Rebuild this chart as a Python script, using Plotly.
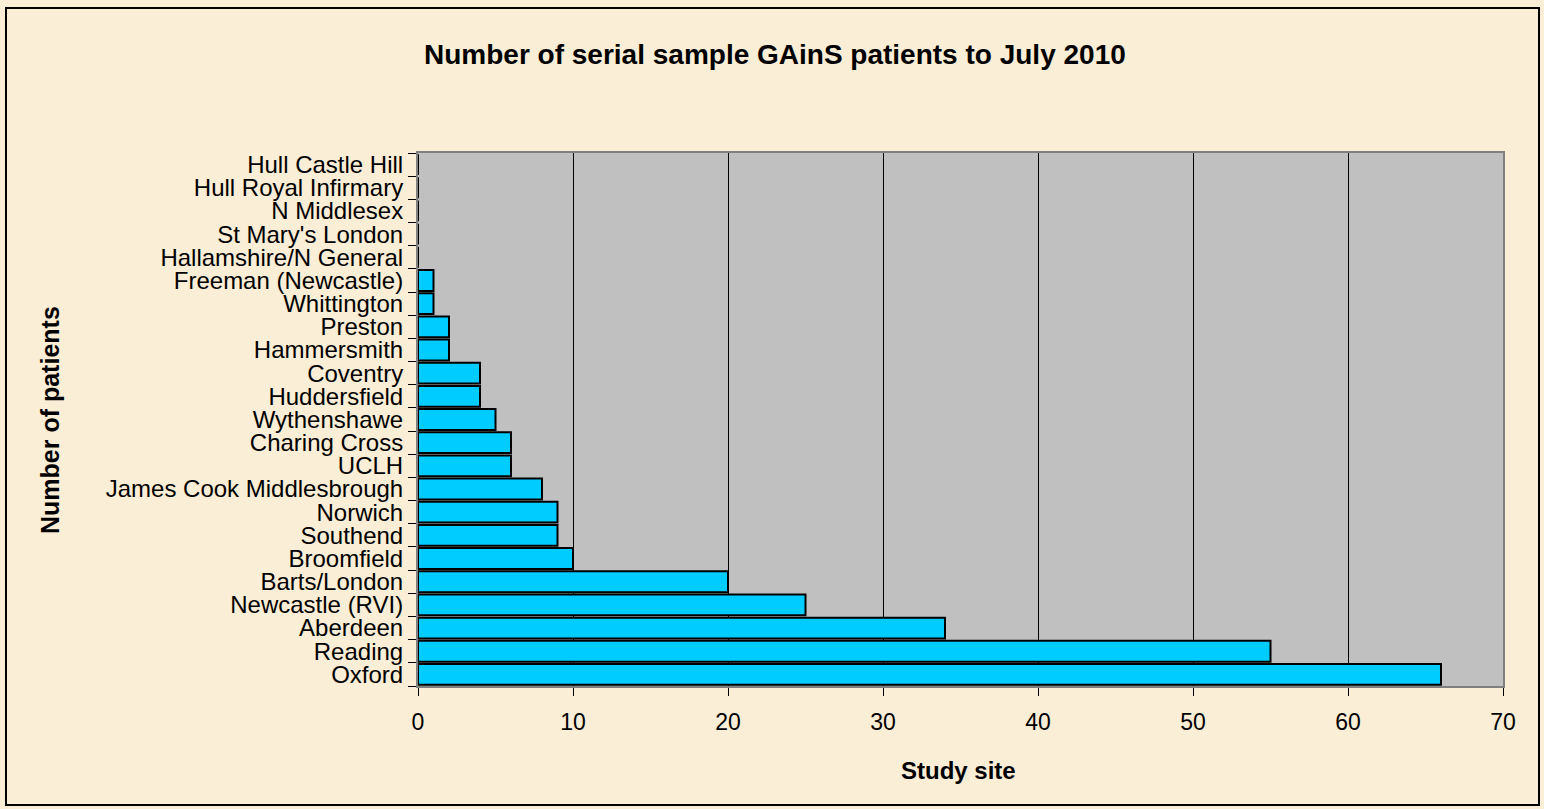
import plotly.graph_objects as go

sites = ["Oxford", "Reading", "Aberdeen", "Newcastle (RVI)", "Barts/London", "Broomfield",
         "Southend", "Norwich", "James Cook Middlesbrough", "UCLH", "Charing Cross",
         "Wythenshawe", "Huddersfield", "Coventry", "Hammersmith", "Preston",
         "Whittington", "Freeman (Newcastle)", "Hallamshire/N General", "St Mary's London",
         "N Middlesex", "Hull Royal Infirmary", "Hull Castle Hill"]
patients = [66, 55, 34, 25, 20, 10, 9, 9, 8, 6, 6, 5, 4, 4, 2, 2, 1, 1, 0, 0, 0, 0, 0]
x_ticks = [0, 10, 20, 30, 40, 50, 60, 70]

FONT = "Liberation Sans, Arial, sans-serif"
W, H = 1544, 809
L, R, T, B = 418, 41, 153, 123
PW, PH = W - L - R, H - T - B


def px(x):
    return (x - L) / PW


def py(y):
    return (H - B - y) / PH


fig = go.Figure()
fig.add_trace(go.Bar(
    x=patients, y=sites, orientation="h",
    marker=dict(color="#00CCFF", line=dict(color="#000000", width=2)),
    hoverinfo="x+y",
))

fig.update_layout(
    width=W, height=H,
    margin=dict(l=L, r=R, t=T, b=B),
    paper_bgcolor="#FAEED6",
    plot_bgcolor="#C0C0C0",
    bargap=0.1,
    showlegend=False,
    font=dict(family=FONT, color="#000000"),
    xaxis=dict(
        range=[0, 70], tickmode="array", tickvals=x_ticks, ticktext=[str(v) for v in x_ticks],
        showgrid=True, gridcolor="#000000", gridwidth=1,
        zeroline=False, showline=True, linecolor="#808080", linewidth=2, mirror=True,
        ticks="outside", ticklen=8, tickcolor="#000000", tickwidth=1,
        ticklabelstandoff=6,
        tickfont=dict(size=23, family=FONT), automargin=False,
    ),
    yaxis=dict(
        type="category", categoryorder="array", categoryarray=sites,
        tickmode="array", tickvals=sites, ticktext=sites,
        range=[-0.5, len(sites) - 0.5],
        showgrid=False, zeroline=False,
        showline=True, linecolor="#808080", linewidth=2, mirror=True,
        ticks="outside", tickson="boundaries", ticklen=8, tickcolor="#000000", tickwidth=1,
        ticklabelstandoff=8,
        tickfont=dict(size=24, family=FONT), automargin=False,
    ),
    annotations=[
        dict(text="<b>Number of serial sample GAinS patients to July 2010</b>",
             xref="paper", yref="paper", x=px(775), y=py(55), xanchor="center", yanchor="middle",
             showarrow=False, font=dict(size=28, family=FONT)),
        dict(text="<b>Study site</b>",
             xref="paper", yref="paper", x=px(958), y=py(770), xanchor="center", yanchor="middle",
             showarrow=False, font=dict(size=24, family=FONT)),
        dict(text="<b>Number of patients</b>", textangle=-90,
             xref="paper", yref="paper", x=px(50), y=py(420), xanchor="center", yanchor="middle",
             showarrow=False, font=dict(size=25, family=FONT)),
    ],
)

# chart area border
fig.add_shape(type="rect", xref="paper", yref="paper",
              x0=px(6), x1=px(1539), y0=py(805), y1=py(8),
              line=dict(color="#000000", width=2), fillcolor="rgba(0,0,0,0)", layer="below")

fig.write_html("out.html", config={"displayModeBar": False},
               post_script="document.body.style.margin='0';document.body.style.background='#FAEED6';")
